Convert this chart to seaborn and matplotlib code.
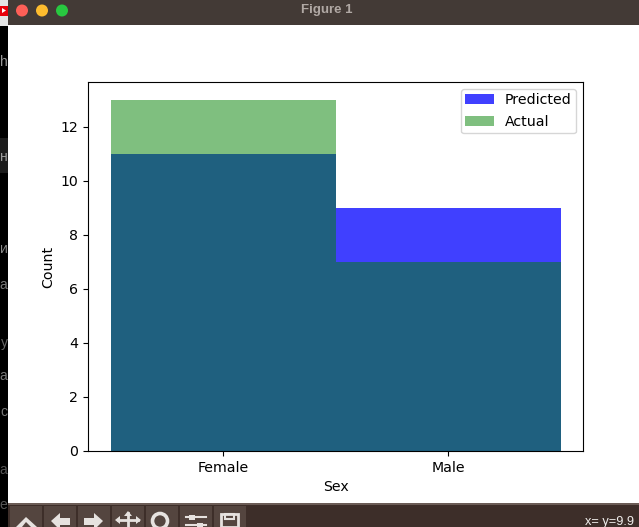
import numpy as np
import pandas as pd
import matplotlib
matplotlib.use("Agg")
import matplotlib.pyplot as plt
from matplotlib.patches import Rectangle, Circle, Polygon
import seaborn as sns

categories = ["Female", "Male"]
predicted = [11, 9]
actual = [13, 7]
xlabel = "Sex"
ylabel = "Count"

W, H = 639, 527
plt.rcParams["font.family"] = ["DejaVu Sans"]
plt.rcParams["font.size"] = 10.2
fig = plt.figure(figsize=(W / 100, H / 100), dpi=100, facecolor="white")

# screenshot chrome, in pixel coordinates
bg = fig.add_axes([0, 0, 1, 1], zorder=0)
bg.set_xlim(0, W)
bg.set_ylim(H, 0)
bg.axis("off")
bg.add_patch(Rectangle((0, 0), W, H, fc="white", ec="none"))
bg.add_patch(Rectangle((0, 0), 8, H, fc="black", ec="none"))
bg.add_patch(Rectangle((0, 138), 8, 35, fc="#1c1c1c", ec="none"))
bg.add_patch(Rectangle((0, 0), 8, 26, fc="#e4e4e4", ec="none"))
bg.add_patch(Rectangle((0, 6), 8, 10, fc="#e8000a", ec="none"))
bg.add_patch(Polygon([[2, 8], [6, 10.5], [2, 13]], fc="white", ec="none"))
bg.add_patch(Rectangle((8, 0), W - 8, 25, fc="#433a36", ec="none"))
for cx, c in zip([22, 42, 62], ["#fe5f57", "#febc2e", "#28c840"]):
    bg.add_patch(Circle((cx, 10.5), 6, fc=c, ec="none"))
bg.text(327, 10.5, "Figure 1", color="#b0a8a4", fontsize=9.5, fontweight="bold",
        ha="center", va="center", family="Liberation Sans")
for y, s, col in [(62, "h", "#9a9a9a"), (157, "н", "#9a9a9a"), (249, "и", "#8a8a8a"),
                  (285, "а", "#777777"), (343, "у", "#666666"), (376, "а", "#777777"),
                  (412, "с", "#777777"), (470, "а", "#555555"), (505, "е", "#555555")]:
    bg.text(7.5, y, s, color=col, fontsize=10, ha="right", va="center",
            family="Liberation Sans")
bg.add_patch(Rectangle((8, 504), W - 8, 23, fc="#3d2e29", ec="none"))
bg.add_patch(Rectangle((8, 503), W - 8, 1.5, fc="#6b5c56", ec="none"))
for x0 in [10, 44, 78, 112, 146, 180, 214]:
    bg.add_patch(Rectangle((x0, 506), 32, 21, fc="#54453f", ec="none"))
ic = "#e6e2df"
bg.add_patch(Polygon([[16, 527], [26, 517], [37, 527]], fc=ic, ec="none"))
bg.add_patch(Polygon([[22, 527], [26, 522], [31, 527]], fc="#54453f", ec="none"))
bg.add_patch(Polygon([[51, 521], [60, 513], [60, 518], [70, 518], [70, 525], [60, 525], [60, 527], [57, 527]],
                     fc=ic, ec="none"))
bg.add_patch(Polygon([[103, 521], [94, 513], [94, 518], [84, 518], [84, 525], [94, 525], [94, 527], [97, 527]],
                     fc=ic, ec="none"))
bg.plot([128, 128], [513, 527], color=ic, lw=2)
bg.plot([118, 138], [520, 520], color=ic, lw=2)
bg.add_patch(Polygon([[124, 516], [128, 511], [132, 516]], fc=ic, ec="none"))
bg.add_patch(Polygon([[120, 516], [115, 520], [120, 524]], fc=ic, ec="none"))
bg.add_patch(Polygon([[136, 516], [141, 520], [136, 524]], fc=ic, ec="none"))
bg.add_patch(Circle((160, 521), 7.5, fc="none", ec=ic, lw=2.6))
for y, a in [(517, 192), (525, 200)]:
    bg.plot([186, 206], [y, y], color=ic, lw=1.5)
    bg.add_patch(Rectangle((a - 3, y - 2.5), 6, 5, fc=ic, ec="none"))
bg.add_patch(Rectangle((221, 514), 17, 13, fc="none", ec=ic, lw=2))
bg.add_patch(Rectangle((225, 514), 9, 5, fc="none", ec=ic, lw=1.5))
bg.text(585, 522, "x= y=9.9", color="#f0eeec", fontsize=9.2, ha="left", va="center",
        family="Liberation Sans")

# chart
df = pd.DataFrame({"Sex": categories, "Predicted": predicted, "Actual": actual})
ax = fig.add_axes([88 / W, 1 - 451 / H, 495 / W, 369 / H], zorder=1)
sns.histplot(data=df, x="Sex", weights="Predicted", color="blue", alpha=0.75,
             edgecolor="none", linewidth=0, label="Predicted", ax=ax)
sns.histplot(data=df, x="Sex", weights="Actual", color="green", alpha=0.5,
             edgecolor="none", linewidth=0, label="Actual", ax=ax)
ax.set_xlabel(xlabel)
ax.set_ylabel(ylabel)
ax.set_xlim(-0.6, 1.6)
ax.set_ylim(0, 13.65)
ax.legend(loc="upper right", borderpad=0.3, labelspacing=0.55)

fig.savefig("out.png", dpi=100)
